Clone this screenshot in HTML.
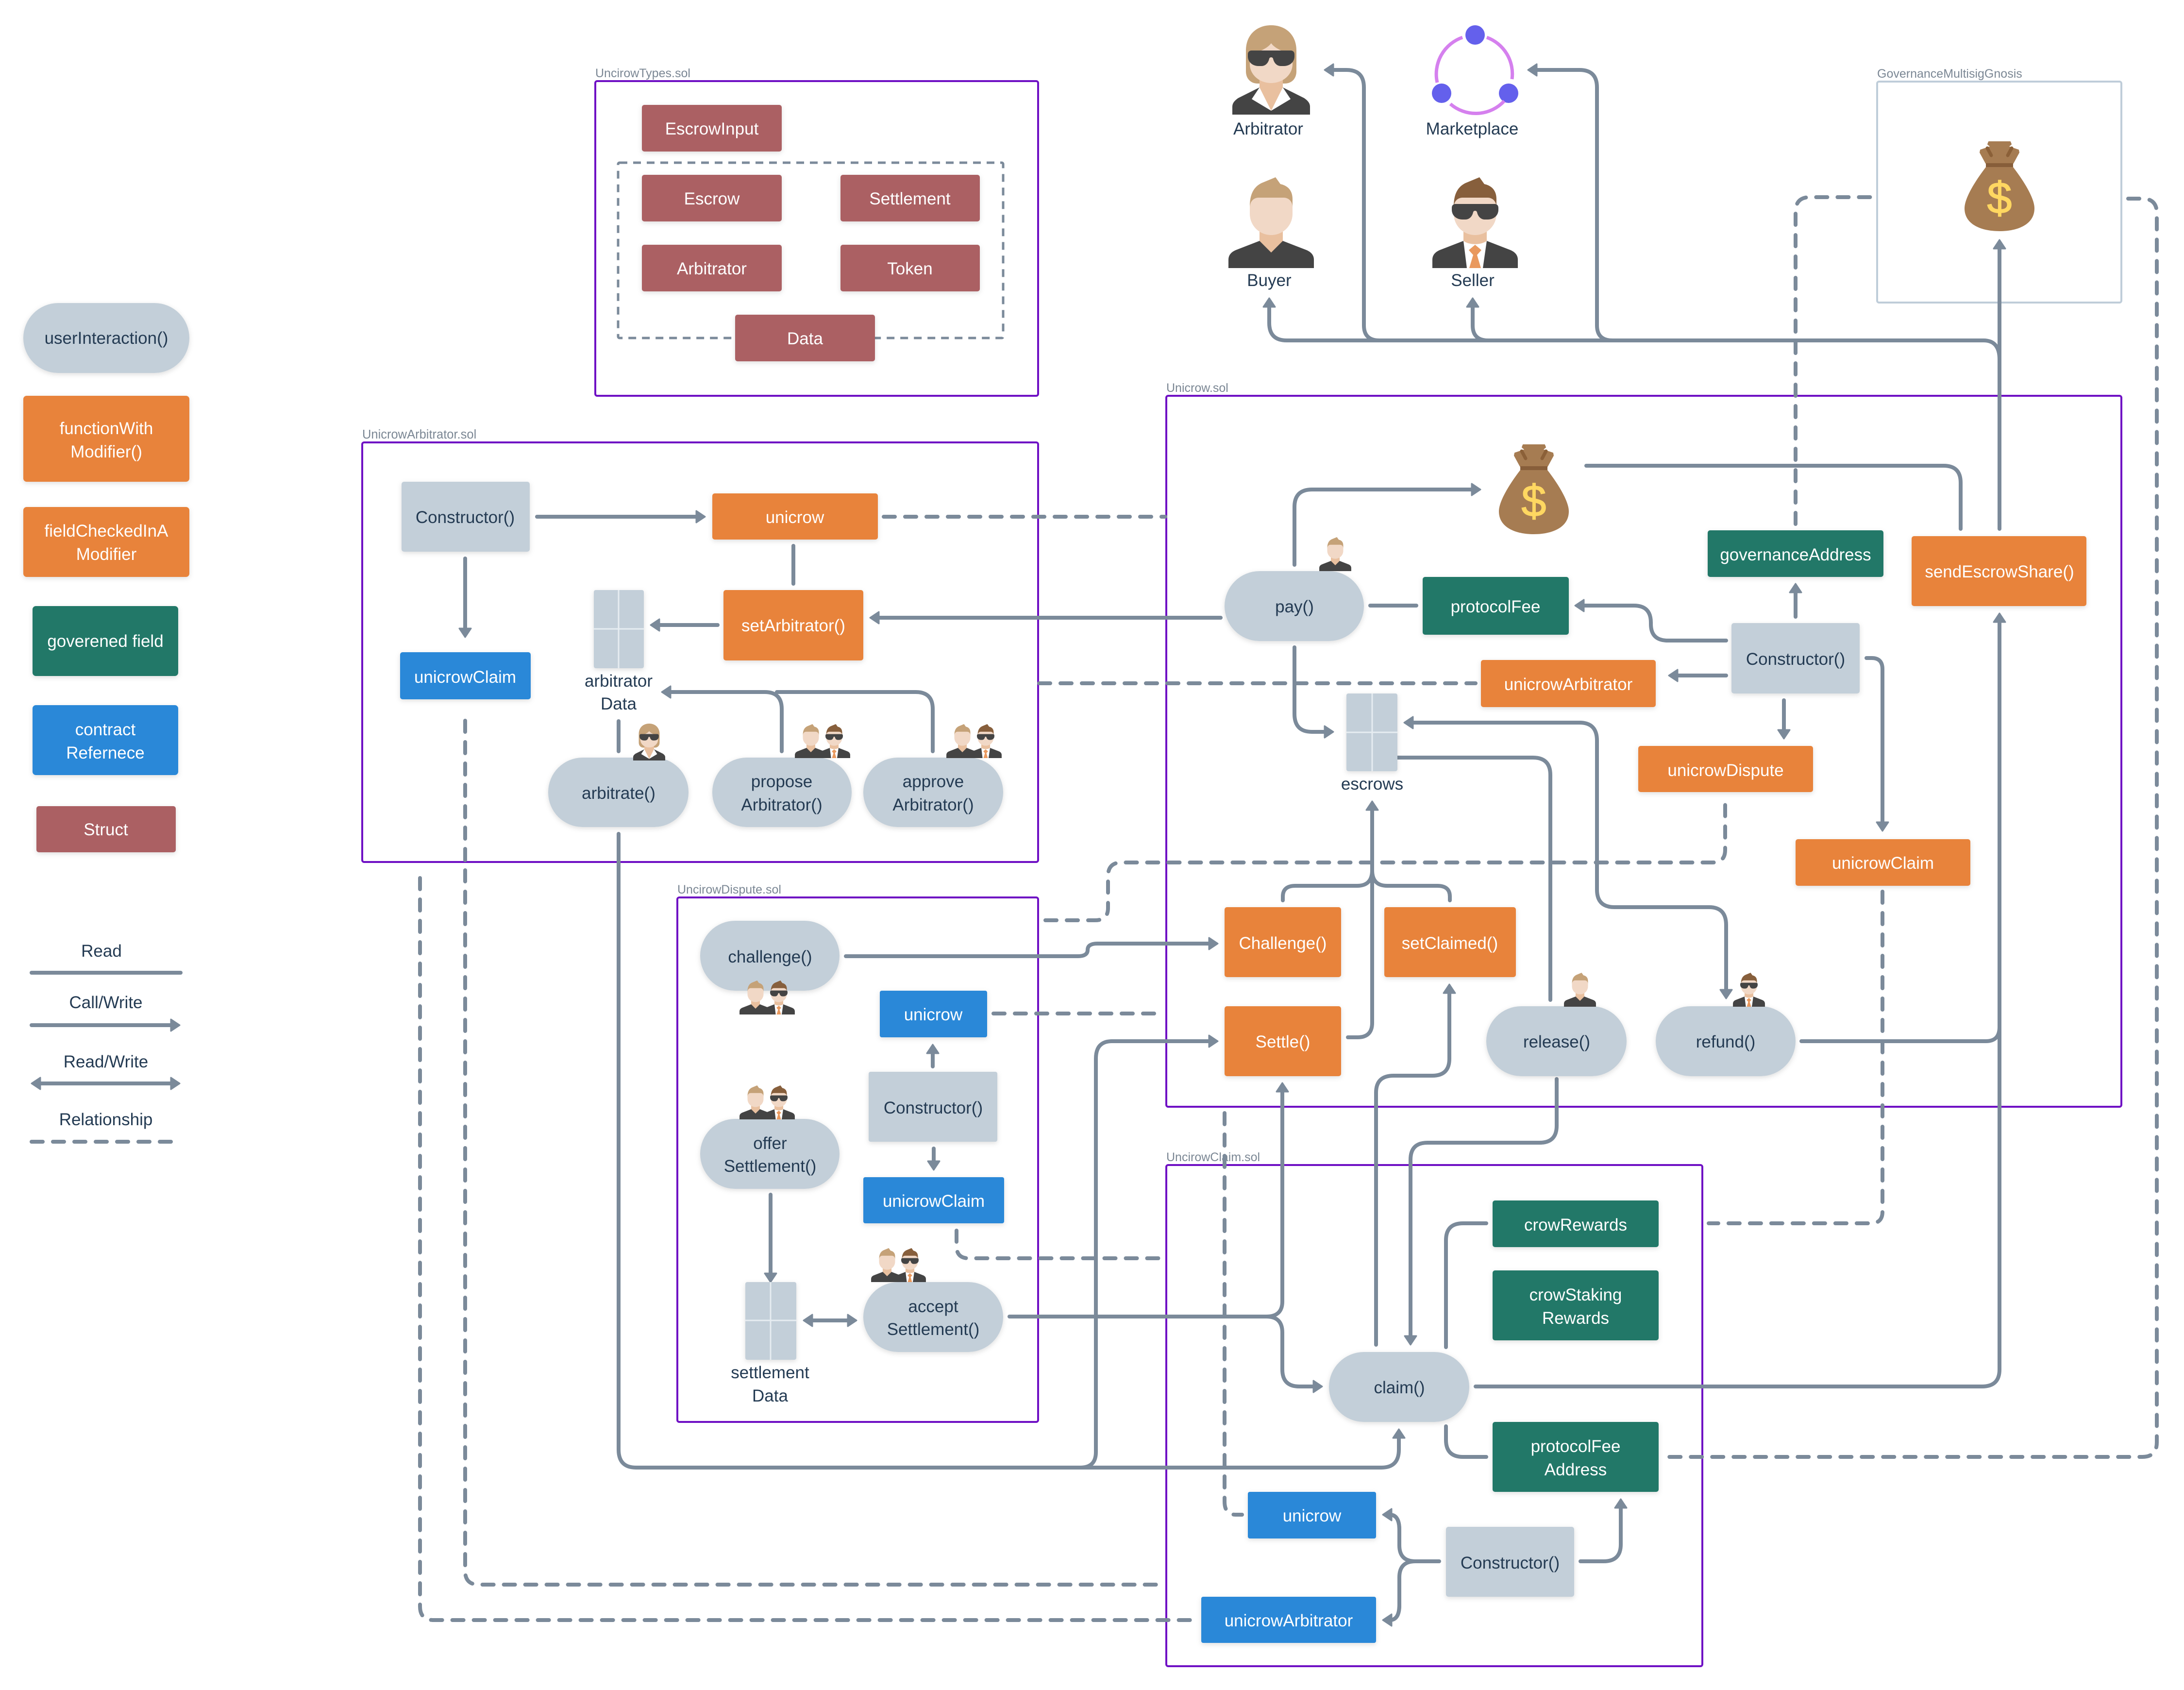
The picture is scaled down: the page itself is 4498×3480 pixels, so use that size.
<!DOCTYPE html>
<html><head><meta charset="utf-8"><style>
html,body{margin:0;padding:0;background:#fff}
svg{display:block}
text{font-family:"Liberation Sans",sans-serif;font-size:35px;text-anchor:middle}
.w{fill:#fff}.d{fill:#243b53}
.lbl{font-size:25px;fill:#7b8794;text-anchor:start}
.c{fill:none;stroke:#6f10c4;stroke-width:4}
.l{fill:none;stroke:#7b8a9a;stroke-width:8;stroke-linecap:round;stroke-linejoin:round}
.a{marker-end:url(#ah)}
.b{marker-start:url(#ah);marker-end:url(#ah)}
.s{stroke-dasharray:23 21}
.g{fill:#c3cfd9}.o{fill:#e8833a}.t{fill:#207868}.u{fill:#2b88d8}.r{fill:#ab6063}
</style></head><body>
<svg xmlns="http://www.w3.org/2000/svg" width="4498" height="3480" viewBox="0 0 4498 3480">
<defs>
<marker id="ah" markerUnits="userSpaceOnUse" markerWidth="30" markerHeight="34" viewBox="0 0 30 34" refX="8" refY="17" orient="auto-start-reverse"><path d="M4 5L22 17L4 29Z" fill="#7b8a9a" stroke="#7b8a9a" stroke-width="3" stroke-linejoin="round"/></marker>
<filter id="sh" x="-10%" y="-10%" width="120%" height="120%"><feDropShadow dx="0" dy="3" stdDeviation="5" flood-color="#000" flood-opacity=".13"/></filter>
<symbol id="glass" overflow="visible"><path d="M0 8C0 3 3 0 8 0H88C93 0 96 3 96 8V12C96 24 86 32 74 32H68C60 32 54 26 52 17C51 13 45 13 44 17C42 26 36 32 28 32H22C10 32 0 24 0 12Z" fill="#444"/></symbol>
<symbol id="buyer" viewBox="0 0 176 187" overflow="visible">
<path d="M0 187V170C0 160 6 154 15 150L64 131H112L161 150C170 154 176 160 176 170V187Z" fill="#444"/>
<path d="M64 105H112V131L88 155L64 131Z" fill="#e9c09f"/>
<path d="M44 60C44 35 52 20 68 12L97 0L107 14C125 18 132 30 132 45V70H44Z" fill="#c5a278"/>
<path d="M44 62C44 50 52 42 62 42H114C124 42 132 50 132 62V75C132 100 112 119 88 119C64 119 44 100 44 75Z" fill="#f1d8c6"/>
</symbol>
<symbol id="seller" viewBox="0 0 176 187" overflow="visible">
<path d="M0 187V170C0 160 6 154 15 150L64 131H112L161 150C170 154 176 160 176 170V187Z" fill="#444"/>
<path d="M64 131H112L104 187H71Z" fill="#fff"/>
<path d="M64 105H112V131C100 140 76 140 64 131Z" fill="#e9c09f"/>
<path d="M88 139L101 150L92 160L100 187H76L84 160L75 150Z" fill="#e9995e"/>
<path d="M44 60C44 35 52 20 68 12L97 0L107 14C125 18 132 30 132 45V70H44Z" fill="#875f3c"/>
<path d="M44 62C44 50 52 42 62 42H114C124 42 132 50 132 62V75C132 100 112 119 88 119C64 119 44 100 44 75Z" fill="#f1d8c6"/>
<use href="#glass" x="40" y="55" width="96" height="32"/>
</symbol>
<symbol id="arb" viewBox="0 0 160 184" overflow="visible">
<path d="M28 52C28 20 50 0 80 0C110 0 132 20 132 52V95C132 110 122 120 108 120H52C38 120 28 110 28 95Z" fill="#c5a278"/>
<path d="M0 184V168C0 160 5 155 12 150L56 128H104L148 150C155 155 160 160 160 168V184Z" fill="#444"/>
<path d="M56 128L40 152L80 176L120 152L104 128Z" fill="#fff"/>
<path d="M56 110H104V128L80 176L56 128Z" fill="#e9c09f"/>
<path d="M36 60C55 55 72 48 80 37C88 48 105 55 124 60V80C124 102 104 119 80 119C56 119 36 102 36 80Z" fill="#f1d8c6"/>
<use href="#glass" x="32" y="52" width="96" height="32"/>
</symbol>
<symbol id="bag" viewBox="0 0 144 184" overflow="visible">
<path d="M50 0H94L96 5L90 10L111 17L112 22L100 44H44L32 22L33 17L54 10L48 5Z" fill="#a67c52" stroke="#a67c52" stroke-width="2" stroke-linejoin="round"/>
<path d="M47 13L55 28M97 13L89 28" stroke="#8b6038" stroke-width="7" stroke-linecap="round"/>
<rect x="44" y="44" width="56" height="8" fill="#875e3a"/>
<path d="M44 52H100C120 78 144 115 144 137C144 170 110 184 72 184C34 184 0 170 0 137C0 115 24 78 44 52Z" fill="#a67c52"/>
<text x="72" y="147" style="font-size:92px;fill:#ffd761;stroke:#ffd761;stroke-width:1.5">$</text>
</symbol>
</defs>

<!-- containers -->
<rect x="1226" y="167" width="912" height="648" rx="4" class="c"/>
<rect x="746" y="911" width="1392" height="864" rx="4" class="c"/>
<rect x="1395" y="1848" width="743" height="1080" rx="4" class="c"/>
<rect x="2402" y="815" width="1967" height="1464" rx="4" class="c"/>
<rect x="2402" y="2399" width="1104" height="1032" rx="4" class="c"/>
<rect x="3866" y="168" width="503" height="455" rx="4" fill="none" stroke="#bfcdd9" stroke-width="4"/>
<rect x="1273" y="335" width="793" height="361" rx="3" fill="none" stroke="#7b8a9a" stroke-width="5" stroke-dasharray="16 12"/>
<text class="lbl" x="1226" y="159">UncirowTypes.sol</text>
<text class="lbl" x="746" y="903" style="font-size:25.5px">UnicrowArbitrator.sol</text>
<text class="lbl" x="1395" y="1840">UncirowDispute.sol</text>
<text class="lbl" x="2402" y="807">Unicrow.sol</text>
<text class="lbl" x="2402" y="2391">UncirowClaim.sol</text>
<text class="lbl" x="3866" y="160">GovernanceMultisigGnosis</text>

<!-- connectors -->
<path class="l" d="M65 2003H372"/>
<path class="l a" d="M65 2111H356"/>
<path class="l b" d="M79 2231H356"/>
<path class="l s" d="M65 2351H360"/>

<path class="l a" d="M1106 1064H1438"/>
<path class="l a" d="M958 1150V1298"/>
<path class="l" d="M1634 1124V1202"/>
<path class="l a" d="M1478 1287H1354"/>
<path class="l a" d="M2514 1272H1806"/>
<path class="l" d="M1274 1485V1547"/>
<path class="l a" d="M1610 1547V1460Q1610 1425 1575 1425H1377"/>
<path class="l" d="M1921 1547V1460Q1921 1425 1886 1425H1600"/>
<path class="l a" d="M1274 1717V2985Q1274 3022 1310 3022H2845Q2881 3022 2881 2985V2957"/>
<path class="l a" d="M2225 3022Q2257 3022 2257 2990V2180Q2257 2144 2290 2144H2494"/>
<path class="l s" d="M1820 1064H2400"/>
<path class="l s" d="M2140 1407H3039"/>

<path class="l a" d="M2666 1163V1044Q2666 1008 2702 1008H3035"/>
<path class="l" d="M3267 959H4003Q4038 959 4038 994V1089"/>
<path class="l a" d="M4118 1089V508"/>
<path class="l a" d="M4118 740Q4118 701 4085 701H2650Q2614 701 2614 665V628"/>
<path class="l a" d="M3065 701Q3033 701 3033 670V628"/>
<path class="l a" d="M2841 701Q2809 701 2809 670V180Q2809 144 2773 144H2742"/>
<path class="l a" d="M3321 701Q3289 701 3289 670V180Q3289 144 3253 144H3161"/>
<path class="l s" d="M3698 1079V436Q3698 406 3728 406H3853"/>
<path class="l s" d="M4383 409H4412Q4442 409 4442 439V2970Q4442 3000 4412 3000H3427"/>
<path class="l a" d="M3698 1270V1216"/>
<path class="l a" d="M3555 1319H3435Q3400 1319 3400 1285V1282Q3400 1247 3365 1247H3258"/>
<path class="l a" d="M3555 1391H3451"/>
<path class="l a" d="M3674 1442V1507"/>
<path class="l a" d="M3844 1355H3855Q3877 1355 3877 1378V1697"/>
<path class="l" d="M2822 1247H2917"/>
<path class="l a" d="M2666 1333V1470Q2666 1507 2702 1507H2732"/>
<path class="l b" d="M3555 2042V1905Q3555 1868 3520 1868H3325Q3289 1868 3289 1832V1525Q3289 1488 3253 1488H2906"/>
<path class="l" d="M2878 1560H3157Q3193 1560 3193 1596V2059"/>
<path class="l a" d="M2776 2136H2796Q2826 2136 2826 2106V1664"/>
<path class="l" d="M2826 1792Q2826 1824 2795 1824H2668Q2642 1824 2642 1846V1854"/>
<path class="l" d="M2826 1792Q2826 1824 2857 1824H2960Q2986 1824 2986 1846V1854"/>
<path class="l s" d="M2153 1895H2255Q2282 1895 2282 1870V1804Q2282 1776 2310 1776H3527Q3553 1776 3553 1750V1643"/>
<path class="l a" d="M1742 1969H2220Q2240 1969 2240 1956Q2240 1943 2260 1943H2494"/>
<path class="l s" d="M2046 2087H2386"/>
<path class="l s" d="M1970 2534V2566Q1970 2591 1995 2591H2393"/>
<path class="l a" d="M2079 2711H2608Q2641 2711 2641 2680V2244"/>
<path class="l a" d="M2608 2711Q2641 2711 2641 2744V2820Q2641 2855 2676 2855H2709"/>
<path class="l a" d="M1587 2460V2626"/>
<path class="l b" d="M1669 2719H1750"/>
<path class="l a" d="M1921 2196V2165"/>
<path class="l a" d="M1923 2365V2395"/>
<path class="l a" d="M2834 2769V2250Q2834 2215 2870 2215H2950Q2985 2215 2985 2180V2041"/>
<path class="l a" d="M3206 2222V2318Q3206 2353 3171 2353H2940Q2905 2353 2905 2388V2755"/>
<path class="l" d="M3061 2519H3013Q2978 2519 2978 2554V2774"/>
<path class="l" d="M2978 2937V2965Q2978 3000 3013 3000H3061"/>
<path class="l a" d="M3039 2855H4082Q4118 2855 4118 2820V1277"/>
<path class="l" d="M3710 2144H4090Q4118 2144 4118 2115"/>
<path class="l s" d="M2522 2292V3092Q2522 3119 2545 3119H2558"/>
<path class="l s" d="M3877 1836V2495Q3877 2519 3853 2519H3519"/>
<path class="l s" d="M958 1484V3235Q958 3263 986 3263H2390"/>
<path class="l s" d="M865 1808V3308Q865 3336 893 3336H2462"/>
<path class="l" d="M2964 3215H2915Q2882 3215 2882 3182V3150Q2882 3119 2862 3119"/>
<path class="l a" d="M2882 3150Q2882 3119 2862 3119"/>
<path class="l" d="M2915 3215Q2882 3215 2882 3248V3305Q2882 3336 2862 3336"/>
<path class="l a" d="M2882 3305Q2882 3336 2862 3336"/>
<path class="l a" d="M3255 3215H3303Q3338 3215 3338 3180V3101"/>

<!-- nodes -->
<g filter="url(#sh)">
<rect class="g" x="48" y="624" width="342" height="144" rx="72"/>
<rect class="o" x="48" y="815" width="342" height="177" rx="7"/>
<rect class="o" x="48" y="1044" width="342" height="144" rx="7"/>
<rect class="t" x="67" y="1248" width="300" height="144" rx="7"/>
<rect class="u" x="67" y="1452" width="300" height="144" rx="7"/>
<rect class="r" x="75" y="1660" width="287" height="95" rx="5"/>

<rect class="r" x="1322" y="216" width="288" height="96" rx="5"/>
<rect class="r" x="1322" y="360" width="288" height="96" rx="5"/>
<rect class="r" x="1731" y="360" width="287" height="96" rx="5"/>
<rect class="r" x="1322" y="504" width="288" height="96" rx="5"/>
<rect class="r" x="1731" y="504" width="287" height="96" rx="5"/>
<rect class="r" x="1514" y="648" width="288" height="96" rx="5"/>

<rect class="g" x="827" y="992" width="264" height="144" rx="5"/>
<rect class="o" x="1467" y="1016" width="341" height="95" rx="5"/>
<rect class="o" x="1490" y="1215" width="288" height="145" rx="5"/>
<rect class="u" x="824" y="1343" width="269" height="97" rx="5"/>
<rect class="g" x="1223" y="1215" width="103" height="161" rx="4"/>
<rect class="g" x="1129" y="1560" width="289" height="143" rx="71"/>
<rect class="g" x="1467" y="1560" width="287" height="143" rx="71"/>
<rect class="g" x="1778" y="1560" width="288" height="143" rx="71"/>

<rect class="g" x="1442" y="1896" width="287" height="144" rx="72"/>
<rect class="u" x="1812" y="2040" width="221" height="96" rx="4"/>
<rect class="g" x="1789" y="2207" width="265" height="144" rx="4"/>
<rect class="u" x="1778" y="2424" width="290" height="95" rx="4"/>
<rect class="g" x="1442" y="2304" width="287" height="144" rx="72"/>
<rect class="g" x="1535" y="2640" width="105" height="160" rx="4"/>
<rect class="g" x="1778" y="2640" width="288" height="144" rx="72"/>

<rect class="g" x="2522" y="1176" width="287" height="144" rx="72"/>
<rect class="t" x="2930" y="1188" width="301" height="119" rx="5"/>
<rect class="t" x="3517" y="1092" width="362" height="96" rx="5"/>
<rect class="o" x="3937" y="1104" width="360" height="144" rx="5"/>
<rect class="g" x="3566" y="1283" width="264" height="145" rx="5"/>
<rect class="o" x="3050" y="1359" width="360" height="97" rx="5"/>
<rect class="o" x="3374" y="1536" width="360" height="95" rx="5"/>
<rect class="g" x="2773" y="1428" width="105" height="160" rx="4"/>
<rect class="o" x="3698" y="1728" width="360" height="96" rx="5"/>
<rect class="o" x="2522" y="1868" width="240" height="144" rx="5"/>
<rect class="o" x="2851" y="1868" width="271" height="144" rx="5"/>
<rect class="o" x="2522" y="2072" width="240" height="144" rx="5"/>
<rect class="g" x="3061" y="2072" width="289" height="144" rx="72"/>
<rect class="g" x="3410" y="2072" width="288" height="144" rx="72"/>
<rect class="t" x="3074" y="2472" width="342" height="96" rx="5"/>
<rect class="t" x="3074" y="2616" width="342" height="144" rx="5"/>
<rect class="g" x="2737" y="2784" width="289" height="144" rx="72"/>
<rect class="t" x="3074" y="2928" width="342" height="144" rx="5"/>
<rect class="u" x="2570" y="3072" width="264" height="96" rx="4"/>
<rect class="g" x="2978" y="3144" width="264" height="144" rx="5"/>
<rect class="u" x="2474" y="3288" width="360" height="95" rx="4"/>
</g>
<path d="M1274 1215V1376M1223 1295H1326M1587 2640V2800M1535 2719H1640M2826 1428V1588M2773 1508H2878" stroke="#e6ecf1" stroke-width="3" fill="none"/>

<!-- icons -->
<use href="#arb" x="2538" y="52" width="160" height="184"/>
<use href="#buyer" x="2530" y="365" width="176" height="187"/>
<use href="#seller" x="2950" y="365" width="176" height="187"/>
<g fill="#6460ec"><circle cx="3038" cy="72" r="20"/><circle cx="2969" cy="192" r="20"/><circle cx="3107" cy="192" r="20"/></g>
<path d="M3012 77A80 80 0 0 0 2960 170M3062 77A80 80 0 0 1 3114 163M3122 204" fill="none" stroke="#d580ee" stroke-width="7"/>
<path d="M2987 214A80 80 0 0 0 3098 208" fill="none" stroke="#d580ee" stroke-width="7"/>
<use href="#bag" x="4046" y="292" width="144" height="184"/>
<use href="#bag" x="3087" y="916" width="144" height="184"/>
<use href="#buyer" x="2717" y="1106" width="66" height="70"/>
<use href="#buyer" x="3221" y="2003" width="66" height="70"/>
<use href="#seller" x="3569" y="2003" width="66" height="70"/>
<use href="#arb" x="1304" y="1490" width="66" height="76"/>
<use href="#buyer" x="1637" y="1491" width="66" height="70"/><use href="#seller" x="1685" y="1491" width="66" height="70"/>
<use href="#buyer" x="1949" y="1491" width="66" height="70"/><use href="#seller" x="1997" y="1491" width="66" height="70"/>
<use href="#buyer" x="1523" y="2019" width="66" height="70"/><use href="#seller" x="1571" y="2019" width="66" height="70"/>
<use href="#buyer" x="1523" y="2235" width="66" height="70"/><use href="#seller" x="1571" y="2235" width="66" height="70"/>
<use href="#buyer" x="1794" y="2570" width="66" height="70"/><use href="#seller" x="1841" y="2570" width="66" height="70"/>

<!-- labels -->
<text class="d" x="219" y="708">userInteraction()</text>
<text class="w" x="219" y="894">functionWith</text><text class="w" x="219" y="942">Modifier()</text>
<text class="w" x="219" y="1105">fieldCheckedInA</text><text class="w" x="219" y="1153">Modifier</text>
<text class="w" x="217" y="1332">goverened field</text>
<text class="w" x="217" y="1514">contract</text><text class="w" x="217" y="1562">Refernece</text>
<text class="w" x="218" y="1720">Struct</text>
<text class="d" x="209" y="1970">Read</text>
<text class="d" x="218" y="2076">Call/Write</text>
<text class="d" x="218" y="2198">Read/Write</text>
<text class="d" x="218" y="2317">Relationship</text>

<text class="w" x="1466" y="277">EscrowInput</text>
<text class="w" x="1466" y="421">Escrow</text>
<text class="w" x="1874" y="421">Settlement</text>
<text class="w" x="1466" y="565">Arbitrator</text>
<text class="w" x="1874" y="565">Token</text>
<text class="w" x="1658" y="709">Data</text>

<text class="d" x="958" y="1077">Constructor()</text>
<text class="w" x="1637" y="1077">unicrow</text>
<text class="w" x="1634" y="1300">setArbitrator()</text>
<text class="w" x="958" y="1406">unicrowClaim</text>
<text class="d" x="1274" y="1414">arbitrator</text><text class="d" x="1274" y="1461">Data</text>
<text class="d" x="1274" y="1645">arbitrate()</text>
<text class="d" x="1610" y="1621">propose</text><text class="d" x="1610" y="1669">Arbitrator()</text>
<text class="d" x="1922" y="1621">approve</text><text class="d" x="1922" y="1669">Arbitrator()</text>

<text class="d" x="1586" y="1982">challenge()</text>
<text class="w" x="1922" y="2101">unicrow</text>
<text class="d" x="1922" y="2293">Constructor()</text>
<text class="w" x="1923" y="2485">unicrowClaim</text>
<text class="d" x="1586" y="2366">offer</text><text class="d" x="1586" y="2413">Settlement()</text>
<text class="d" x="1586" y="2838">settlement</text><text class="d" x="1586" y="2886">Data</text>
<text class="d" x="1922" y="2702">accept</text><text class="d" x="1922" y="2749">Settlement()</text>

<text class="d" x="2612" y="277">Arbitrator</text>
<text class="d" x="3032" y="277">Marketplace</text>
<text class="d" x="2614" y="589">Buyer</text>
<text class="d" x="3033" y="589">Seller</text>

<text class="d" x="2666" y="1261">pay()</text>
<text class="w" x="3080" y="1261">protocolFee</text>
<text class="w" x="3698" y="1154">governanceAddress</text>
<text class="w" x="4118" y="1189">sendEscrowShare()</text>
<text class="d" x="3698" y="1369">Constructor()</text>
<text class="w" x="3230" y="1421">unicrowArbitrator</text>
<text class="w" x="3554" y="1598">unicrowDispute</text>
<text class="d" x="2826" y="1626">escrows</text>
<text class="w" x="3878" y="1789">unicrowClaim</text>
<text class="w" x="2642" y="1954">Challenge()</text>
<text class="w" x="2986" y="1954">setClaimed()</text>
<text class="w" x="2642" y="2157">Settle()</text>
<text class="d" x="3206" y="2157">release()</text>
<text class="d" x="3554" y="2157">refund()</text>
<text class="w" x="3245" y="2534">crowRewards</text>
<text class="w" x="3245" y="2678">crowStaking</text><text class="w" x="3245" y="2726">Rewards</text>
<text class="d" x="2882" y="2869">claim()</text>
<text class="w" x="3245" y="2990">protocolFee</text><text class="w" x="3245" y="3038">Address</text>
<text class="w" x="2702" y="3133">unicrow</text>
<text class="d" x="3110" y="3230">Constructor()</text>
<text class="w" x="2654" y="3349">unicrowArbitrator</text>
</svg>
</body></html>
